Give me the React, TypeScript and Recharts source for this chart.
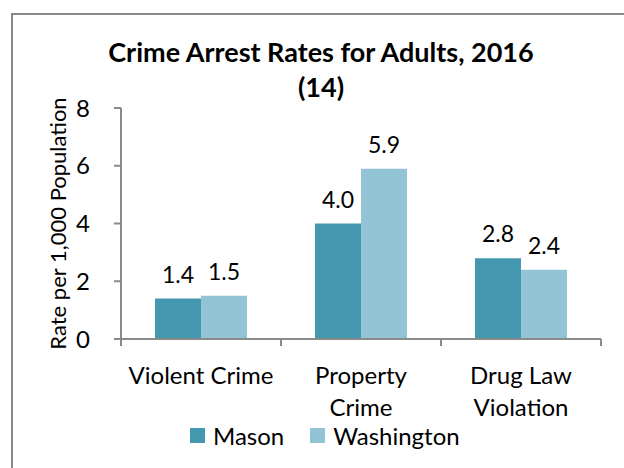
import { Bar, BarChart, LabelList, Legend, XAxis, YAxis } from "recharts";

const categories = ["Violent Crime", "Property Crime", "Drug Law Violation"];
const categoryLines = [["Violent Crime"], ["Property", "Crime"], ["Drug Law", "Violation"]];
const mason = [1.4, 4.0, 2.8];
const washington = [1.5, 5.9, 2.4];
const yTicks = [0, 2, 4, 6, 8];

const data = categories.map((name, i) => ({
  name,
  Mason: mason[i],
  Washington: washington[i],
}));

const FONT = "Lato, 'Open Sans', sans-serif";
const AXIS = "#8a8a8a";
const PLOT_LEFT = 121;
const PLOT_RIGHT = 601;
const bandWidth = (PLOT_RIGHT - PLOT_LEFT) / categories.length;

function CategoryTick(props: any) {
  const { x, y, payload, index } = props;
  const lines: string[] = categoryLines[index] ?? [payload.value];
  return (
    <g>
      <line x1={x - bandWidth / 2} x2={x - bandWidth / 2} y1={y} y2={y + 7} stroke={AXIS} strokeWidth={2} />
      {index === categories.length - 1 && (
        <line x1={x + bandWidth / 2} x2={x + bandWidth / 2} y1={y} y2={y + 7} stroke={AXIS} strokeWidth={2} />
      )}
      <text textAnchor="middle" fontFamily={FONT} fontSize={24} fill="#000">
        {lines.map((line, i) => (
          <tspan key={line} x={x} y={y + 45 + i * 32}>
            {line}
          </tspan>
        ))}
      </text>
    </g>
  );
}

function YLabel(props: any) {
  const { viewBox } = props;
  const cx = 57;
  const cy = viewBox.y + viewBox.height / 2;
  return (
    <text
      x={cx}
      y={cy}
      transform={`rotate(-90, ${cx}, ${cy})`}
      textAnchor="middle"
      dominantBaseline="central"
      fontFamily={FONT}
      fontSize={22}
      fill="#000"
    >
      Rate per 1,000 Population
    </text>
  );
}

function LegendContent(props: any) {
  const { payload } = props;
  return (
    <div style={{ display: "flex", alignItems: "center", fontFamily: FONT, fontSize: 24, color: "#000" }}>
      {(payload ?? []).map((entry: any, i: number) => (
        <div key={entry.value} style={{ display: "flex", alignItems: "center", marginLeft: i === 0 ? 0 : 26 }}>
          <span style={{ display: "inline-block", width: 15, height: 15, background: entry.color, marginRight: 8 }} />
          <span>{entry.value}</span>
        </div>
      ))}
    </div>
  );
}

export default function App() {
  return (
    <div style={{ position: "absolute", left: 0, top: 0, width: 624, height: 468, overflow: "hidden", background: "#fff" }}>
      <div
        style={{
          position: "absolute",
          left: 11,
          top: 13,
          width: 700,
          height: 600,
          border: "2px solid #888",
        }}
      />
      <div
        style={{
          position: "absolute",
          left: 21,
          width: 600,
          top: 34,
          textAlign: "center",
          fontFamily: FONT,
          fontWeight: 700,
          fontSize: 27,
          lineHeight: "35px",
        }}
      >
        Crime Arrest Rates for Adults, 2016
        <br />
        (14)
      </div>
      <div style={{ position: "absolute", left: 0, top: 0 }}>
        <BarChart
          width={624}
          height={468}
          data={data}
          margin={{ top: 108, right: 624 - PLOT_RIGHT, left: PLOT_LEFT - 50, bottom: 468 - 339 - 60 }}
          barCategoryGap={34}
          barGap={0}
        >
          <XAxis
            dataKey="name"
            height={60}
            tickLine={false}
            tickSize={0}
            tickMargin={0}
            tick={<CategoryTick />}
            axisLine={{ stroke: AXIS, strokeWidth: 2 }}
            interval={0}
          />
          <YAxis
            width={50}
            domain={[0, 8]}
            ticks={yTicks}
            tickSize={7}
            tickMargin={24}
            tick={{ fontFamily: FONT, fontSize: 24, fill: "#000" }}
            tickLine={{ stroke: AXIS, strokeWidth: 2 }}
            axisLine={{ stroke: AXIS, strokeWidth: 2 }}
            label={<YLabel />}
          />
          <Legend
            layout="horizontal"
            align="center"
            verticalAlign="middle"
            content={<LegendContent />}
            wrapperStyle={{ top: 421, left: 190, width: 300 }}
          />
          <Bar dataKey="Mason" fill="#4398AF" isAnimationActive={false}>
            <LabelList
              dataKey="Mason"
              position="top"
              offset={16}
              formatter={(v: any) => Number(v).toFixed(1)}
              style={{ fontFamily: FONT, fontSize: 23, fill: "#000" }}
            />
          </Bar>
          <Bar dataKey="Washington" fill="#93C4D5" isAnimationActive={false}>
            <LabelList
              dataKey="Washington"
              position="top"
              offset={16}
              formatter={(v: any) => Number(v).toFixed(1)}
              style={{ fontFamily: FONT, fontSize: 23, fill: "#000" }}
            />
          </Bar>
        </BarChart>
      </div>
    </div>
  );
}
